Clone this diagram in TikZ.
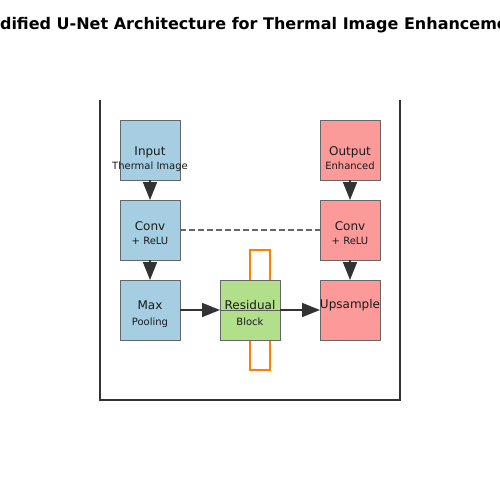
\documentclass[tikz,border=0pt]{standalone}
\usepackage{fontspec}
\setmainfont{DejaVu Sans}
\usetikzlibrary{arrows.meta}
\definecolor{encblue}{HTML}{A6CEE3}
\definecolor{resgreen}{HTML}{B2DF8A}
\definecolor{decpink}{HTML}{FB9A99}
\definecolor{edgegrey}{HTML}{666666}
\definecolor{darkline}{HTML}{333333}
\definecolor{skipgrey}{HTML}{666666}
\definecolor{loopor}{HTML}{FF7F00}
\definecolor{txt}{HTML}{1A1A1A}
\tikzset{
  blk/.style={draw=edgegrey, line width=1pt, minimum width=60pt, minimum height=60pt, inner sep=0pt, outer sep=0pt},
  mainlbl/.style={font=\fontsize{12}{14}\selectfont, text=txt, anchor=base, inner sep=0pt},
  sublbl/.style={font=\fontsize{10}{12}\selectfont, text=txt, anchor=base, inner sep=0pt},
  flow/.style={draw=darkline, line width=1.6pt, -{Triangle[length=18pt,width=14pt]}},
  flowline/.style={draw=darkline!80, line width=1.1pt},
  skipline/.style={draw=skipgrey, line width=1.5pt, dash pattern=on 5.5pt off 3.5pt},
  frameline/.style={draw=darkline, line width=2pt},
  resloop/.style={draw=loopor, line width=2pt},
  titlestyle/.style={font=\bfseries\fontsize{16}{19}\selectfont, text=black, anchor=base, inner sep=0pt}
}
\begin{document}
\begin{tikzpicture}[x=1pt,y=-1pt]
\useasboundingbox (0,0) rectangle (500,500);
\clip (0,0) rectangle (500,500);
\fill[white] (0,0) rectangle (500,500);
% title
\node[titlestyle] (title) at (250,30) {Modified U-Net Architecture for Thermal Image Enhancement};
% U-shaped frame
\draw[frameline] (100,100) -- (100,400) -- (400,400) -- (400,100);
% residual loops (behind the block)
\draw[resloop] (250,280) -- (250,250) -- (270,250) -- (270,280);
\draw[resloop] (250,340) -- (250,370) -- (270,370) -- (270,340);
% blocks
\node[blk, fill=encblue] (input) at (150,150) {};
\node[blk, fill=encblue] (conv1) at (150,230) {};
\node[blk, fill=encblue] (pool) at (150,310) {};
\node[blk, fill=resgreen] (resid) at (250,310) {};
\node[blk, fill=decpink] (upsam) at (350,310) {};
\node[blk, fill=decpink] (conv2) at (350,230) {};
\node[blk, fill=decpink] (output) at (350,150) {};
% connectors
\draw[flow] (input) -- (conv1);
\draw[flow] (conv1) -- (pool);
\draw[flow] (pool) -- (resid);
\draw[flowline] ([yshift=-0.5pt]resid.west) -- ([yshift=-0.5pt]resid.east);
\draw[flow] (resid) -- (upsam);
\draw[flow] (output) -- (conv2);
\draw[flow] (conv2) -- (upsam);
\draw[skipline] (conv1) -- (conv2);
% labels
\node[mainlbl] (inputA) at (150,155) {Input};
\node[sublbl] (inputB) at (150,169) {Thermal Image};
\node[mainlbl] (conv1A) at (150,230.7) {Conv};
\node[sublbl] (conv1B) at (150,244.3) {+ ReLU};
\node[mainlbl] (poolA) at (150,309.3) {Max};
\node[sublbl] (poolB) at (150,325) {Pooling};
\node[mainlbl] (residA) at (250,309.3) {Residual};
\node[sublbl] (residB) at (250,325) {Block};
\node[mainlbl] (upsamA) at (350,308.5) {Upsample};
\node[mainlbl] (conv2A) at (350,230.7) {Conv};
\node[sublbl] (conv2B) at (350,244.3) {+ ReLU};
\node[mainlbl] (outputA) at (350,155) {Output};
\node[sublbl] (outputB) at (350,169) {Enhanced};
\end{tikzpicture}
\end{document}
